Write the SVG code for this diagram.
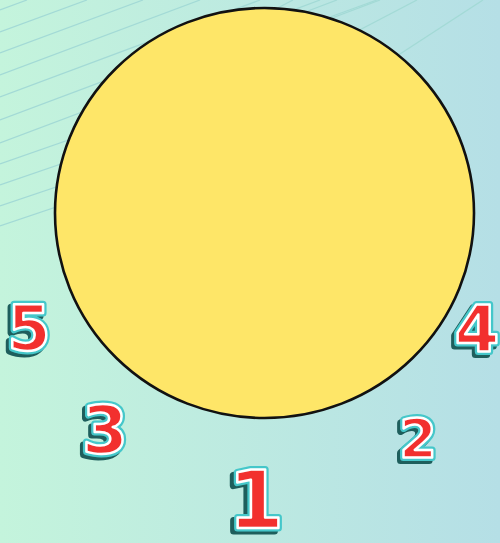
<svg xmlns="http://www.w3.org/2000/svg" width="500" height="543" viewBox="0 0 500 543">
<defs>
<linearGradient id="bg" x1="0" y1="0" x2="1" y2="0">
<stop offset="0" stop-color="#c4f4dc"/>
<stop offset="1" stop-color="#b5dfe6"/>
</linearGradient>
<style>
.ln{stroke:#a3dad6;stroke-width:1.3;fill:none}
.num{font-family:"DejaVu Sans",sans-serif;font-weight:bold;text-anchor:middle}
.sh{fill:#1e5e5c;stroke:#1e5e5c;stroke-width:7;stroke-linejoin:round}
.ol{fill:#ffffff;stroke:#45c7ca;stroke-width:7;stroke-linejoin:round}
.wr{fill:#f2302e;stroke:#ffffff;stroke-width:2.5;stroke-linejoin:round}
</style>
</defs>
<rect width="500" height="543" fill="url(#bg)"/>
<g id="lines">
<line class="ln" x1="0" y1="10" x2="27" y2="0"/>
<line class="ln" x1="0" y1="32" x2="87" y2="0"/>
<line class="ln" x1="0" y1="53" x2="143" y2="0"/>
<line class="ln" x1="0" y1="75" x2="200" y2="0"/>
<line class="ln" x1="0" y1="97" x2="260" y2="0"/>
<line class="ln" x1="0" y1="120" x2="320" y2="0"/>
<line class="ln" x1="0" y1="143" x2="380" y2="0"/>
<line class="ln" x1="0" y1="164" x2="160" y2="108"/>
<line class="ln" x1="0" y1="185" x2="160" y2="130"/>
<line class="ln" x1="0" y1="206" x2="160" y2="152"/>
<line class="ln" x1="0" y1="226" x2="160" y2="172"/>
<line class="ln" x1="270" y1="12" x2="293" y2="0"/>
<line class="ln" x1="300" y1="14" x2="337" y2="0"/>
<line class="ln" x1="330" y1="17" x2="377" y2="0"/>
<line class="ln" x1="350" y1="35" x2="417" y2="0"/>
<line class="ln" x1="380" y1="67" x2="483" y2="0"/>
</g>
<g id="circle">
<ellipse cx="264.5" cy="213" rx="209.5" ry="205" fill="#fee668" stroke="#111111" stroke-width="2.6"/>
</g>
<g id="n5" class="num" font-size="62">
<text class="sh" x="26" y="353">5</text>
<text class="ol" x="29" y="350">5</text>
<text class="wr" x="29" y="350">5</text>
</g>
<g id="n3" class="num" font-size="66">
<text class="sh" x="102" y="456">3</text>
<text class="ol" x="105" y="453">3</text>
<text class="wr" x="105" y="453">3</text>
</g>
<g id="n1" class="num" font-size="80">
<text class="sh" x="252" y="531">1</text>
<text class="ol" x="256" y="528">1</text>
<text class="wr" x="256" y="528">1</text>
</g>
<g id="n4" class="num" font-size="64">
<text class="sh" x="474" y="355">4</text>
<text class="ol" x="477" y="352">4</text>
<text class="wr" x="477" y="352">4</text>
</g>
<g id="n2" class="num" font-size="54">
<text class="sh" x="415" y="460">2</text>
<text class="ol" x="418" y="457">2</text>
<text class="wr" x="418" y="457">2</text>
</g>
</svg>
